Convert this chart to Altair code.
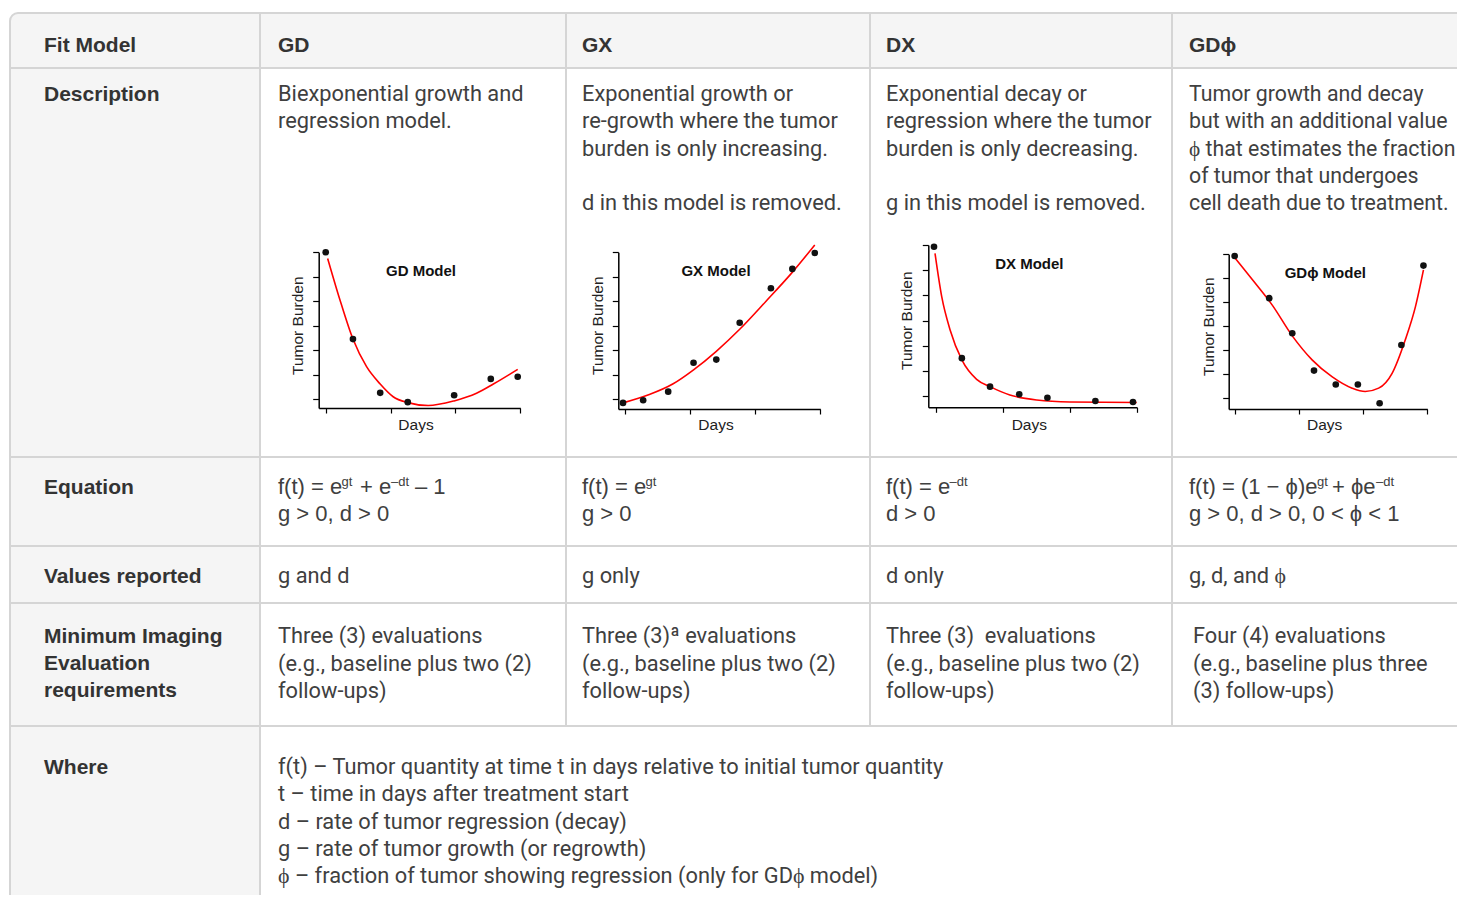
import altair as alt
import pandas as pd

OFF = 8            # page margin
W, H = 1449, 887   # chart size (page minus margins)

# ---------------- table text ----------------
header_labels = ["Fit Model", "GD", "GX", "DX", "GDϕ"]
row_labels = [["Description"], ["Equation"], ["Values reported"],
              ["Minimum Imaging", "Evaluation", "requirements"], ["Where"]]
desc_text = [
    ["Biexponential growth and", "regression model."],
    ["Exponential growth or", "re-growth where the tumor", "burden is only increasing.", "",
     "d in this model is removed."],
    ["Exponential decay or", "regression where the tumor", "burden is only decreasing.", "",
     "g in this model is removed."],
    ["Tumor growth and decay", "but with an additional value", "ϕ that estimates the fraction",
     "of tumor that undergoes", "cell death due to treatment."],
]
eq_main = [["f(t) = e", "+ e", "– 1"], ["f(t) = e"], ["f(t) = e"], ["f(t) = (1 − ϕ)e", "+ ϕe"]]
eq_sup = [["gt", "–dt"], ["gt"], ["–dt"], ["gt", "–dt"]]
eq_cond = ["g > 0, d > 0", "g > 0", "d > 0", "g > 0, d > 0, 0 < ϕ < 1"]
values_reported = ["g and d", "g only", "d only", "g, d, and ϕ"]
min_imaging = [
    ["Three (3) evaluations", "(e.g., baseline plus two (2)", "follow-ups)"],
    ["Three (3)ª evaluations", "(e.g., baseline plus two (2)", "follow-ups)"],
    ["Three (3)\u00a0 evaluations", "(e.g., baseline plus two (2)", "follow-ups)"],
    ["Four (4) evaluations", "(e.g., baseline plus three", "(3) follow-ups)"],
]
where_lines = [
    "f(t) – Tumor quantity at time t in days relative to initial tumor quantity",
    "t – time in days after treatment start",
    "d – rate of tumor regression (decay)",
    "g – rate of tumor growth (or regrowth)",
    "ϕ – fraction of tumor showing regression (only for GDϕ model)",
]
plot_titles = ["GD Model", "GX Model", "DX Model", "GDϕ Model"]

# ---------------- mini plot data (days, tumor burden units) ----------------
gd_pt_day = [0, 8.4, 16.8, 25.3, 39.6, 50.9, 59.2]
gd_pt_val = [6.0, 2.45, 0.25, -0.13, 0.15, 0.82, 0.91]
gd_fit_day = [0.6, 4.4, 8.4, 12.6, 16.8, 20.8, 25.3, 31.6, 39.6, 46.5, 51.7, 59.2]
gd_fit_val = [5.75, 4.05, 2.45, 1.32, 0.61, 0.09, -0.15, -0.27, -0.08, 0.23, 0.61, 1.21]

gx_pt_day = [-0.7, 5.5, 13.2, 21.0, 28.0, 35.2, 44.8, 51.4, 58.3]
gx_pt_val = [-0.16, -0.05, 0.30, 1.48, 1.61, 3.12, 4.53, 5.32, 5.97]
gx_fit_day = [-0.7, 7.4, 14.6, 21.0, 28.0, 35.2, 43.3, 51.5, 58.3]
gx_fit_val = [-0.16, 0.18, 0.61, 1.19, 1.95, 2.85, 4.0, 5.2, 6.3]

dx_pt_day = [-0.5, 7.8, 16.2, 24.9, 33.3, 47.6, 58.8]
dx_pt_val = [5.93, 1.51, 0.38, 0.08, -0.06, -0.19, -0.23]
dx_fit_day = [-0.2, 1.8, 4.3, 7.8, 12.2, 16.2, 22.1, 30.1, 40.0, 59.9]
dx_fit_val = [5.67, 3.95, 2.63, 1.44, 0.67, 0.38, 0.05, -0.15, -0.23, -0.25]

gp_pt_day = [-0.2, 10.6, 17.8, 24.6, 31.4, 38.3, 45.1, 51.9, 58.8]
gp_pt_val = [5.93, 4.17, 2.71, 1.15, 0.57, 0.57, -0.21, 2.22, 5.53]
gp_fit_day = [0, 6.25, 11.5, 17.8, 24.0, 30.2, 36.5, 40.6, 44.8, 49.0, 53.1, 56.3, 58.8]
gp_fit_val = [5.83, 4.79, 3.89, 2.6, 1.6, 0.9, 0.42, 0.28, 0.42, 1.04, 2.43, 3.82, 5.35]

x_ticks = [0, 20, 40, 60]
y_ticks = [0, 1, 2, 3, 4, 5, 6]

# ---------------- layout (page pixels) ----------------
COL_X = [10, 260, 566, 870, 1172, 1480]
ROW_Y = [13, 68, 457, 546, 603, 726, 920]
TEXT_X = [44, 278, 582, 886, 1189]
LH = 27.2
BASE = {"head": 52, "desc": 101.2, "eq": 493.5, "val": 583, "min": 643, "where": 774}
EQ_MAIN_DX = [[0, 82, 137], [0], [0], [0, 143]]
EQ_SUP_DX = [[63.5, 113], [63.5], [63.5], [128, 187]]
SUP_RAISE = 8

# plot frames: x-range, y-range (page px), domains
frames = [
    dict(xr=(318.7, 520.3), yr=(408, 252.3), xd=(-2.16, 60), yd=(-0.37, 6),
         title=(421, 271), ylab=(297.7, 325.7), xlab=(416, 425)),
    dict(xr=(618.3, 820.3), yr=(409, 252.3), xd=(-2.15, 60), yd=(-0.41, 6),
         title=(716, 271), ylab=(597.7, 325.7), xlab=(716, 425)),
    dict(xr=(928.3, 1137), yr=(407.3, 245), xd=(-2.2, 60), yd=(-0.44, 6),
         title=(1029.3, 264.3), ylab=(906.7, 320.7), xlab=(1029.3, 425)),
    dict(xr=(1228.7, 1427.3), yr=(409, 254.3), xd=(-2.06, 60), yd=(-0.45, 6),
         title=(1325.3, 273.3), ylab=(1208.7, 326.7), xlab=(1324.7, 425)),
]

GRID = "#d5d5d5"
SHADE = "#f5f5f5"
TXT = "#404040"
HEAD = "#333333"


def px(v):
    return v - OFF


def rect_layer(rows, **kw):
    return alt.Chart(pd.DataFrame(rows)).mark_rect(**kw).encode(
        x=alt.X("x:Q", scale=None, axis=None), x2="x2:Q",
        y=alt.Y("y:Q", scale=None, axis=None), y2="y2:Q")


# ---- backgrounds and grid ----
table_box = [dict(x=px(COL_X[0]), x2=px(COL_X[-1]), y=px(ROW_Y[0]), y2=px(ROW_Y[-1]))]
base_rect = rect_layer(table_box, fill="white", cornerRadius=8)
head_rect = rect_layer([dict(x=px(COL_X[0]), x2=px(COL_X[-1]), y=px(ROW_Y[0]), y2=px(ROW_Y[1]))],
                       fill=SHADE, cornerRadiusTopLeft=8)
col_rect = rect_layer([dict(x=px(COL_X[0]), x2=px(COL_X[1]), y=px(ROW_Y[1]), y2=px(ROW_Y[-1]))],
                      fill=SHADE)

vlines = [dict(x=px(COL_X[1]), y=px(ROW_Y[0]), y2=px(ROW_Y[-1]))]
for cx in COL_X[2:5]:
    vlines.append(dict(x=px(cx), y=px(ROW_Y[0]), y2=px(ROW_Y[5])))
v_rules = alt.Chart(pd.DataFrame(vlines)).mark_rule(color=GRID, strokeWidth=2).encode(
    x=alt.X("x:Q", scale=None, axis=None),
    y=alt.Y("y:Q", scale=None, axis=None), y2="y2:Q")

hlines = [dict(y=px(ry), x=px(COL_X[0]), x2=px(COL_X[-1])) for ry in ROW_Y[1:6]]
h_rules = alt.Chart(pd.DataFrame(hlines)).mark_rule(color=GRID, strokeWidth=2).encode(
    y=alt.Y("y:Q", scale=None, axis=None),
    x=alt.X("x:Q", scale=None, axis=None), x2="x2:Q")

border = rect_layer(table_box, fill="white", fillOpacity=0, stroke=GRID, strokeWidth=2, cornerRadius=8)

# ---- text rows ----
bold_rows, body_rows, narrow_rows, eq_rows, sup_rows = [], [], [], [], []
for i, h in enumerate(header_labels):
    bold_rows.append(dict(x=px(TEXT_X[i]), y=px(BASE["head"]), t=h))
label_bases = [BASE["desc"], BASE["eq"], BASE["val"], BASE["min"], BASE["where"]]
for lines, b in zip(row_labels, label_bases):
    for j, ln in enumerate(lines):
        bold_rows.append(dict(x=px(TEXT_X[0]), y=px(b + j * LH), t=ln))
for c in range(4):
    target = narrow_rows if c == 3 else body_rows
    for j, ln in enumerate(desc_text[c]):
        if ln:
            target.append(dict(x=px(TEXT_X[c + 1]), y=px(BASE["desc"] + j * LH), t=ln))
    for seg, dx in zip(eq_main[c], EQ_MAIN_DX[c]):
        eq_rows.append(dict(x=px(TEXT_X[c + 1] + dx), y=px(BASE["eq"]), t=seg))
    for seg, dx in zip(eq_sup[c], EQ_SUP_DX[c]):
        sup_rows.append(dict(x=px(TEXT_X[c + 1] + dx), y=px(BASE["eq"] - SUP_RAISE), t=seg))
    eq_rows.append(dict(x=px(TEXT_X[c + 1]), y=px(BASE["eq"] + LH), t=eq_cond[c]))
    body_rows.append(dict(x=px(TEXT_X[c + 1]), y=px(BASE["val"]), t=values_reported[c]))
    mx = TEXT_X[c + 1] + (4 if c == 3 else 0)
    for j, ln in enumerate(min_imaging[c]):
        body_rows.append(dict(x=px(mx), y=px(BASE["min"] + j * 27.5), t=ln))
for j, ln in enumerate(where_lines):
    body_rows.append(dict(x=px(TEXT_X[1]), y=px(BASE["where"] + j * 27.25), t=ln))


def text_layer(rows, **kw):
    return alt.Chart(pd.DataFrame(rows)).mark_text(align="left", baseline="alphabetic", **kw).encode(
        x=alt.X("x:Q", scale=None, axis=None), y=alt.Y("y:Q", scale=None, axis=None), text="t:N")


t_bold = text_layer(bold_rows, font="Liberation Sans", fontSize=21, fontWeight="bold", color=HEAD)
t_body = text_layer(body_rows, font="Roboto", fontSize=21.8, color=TXT)
t_narrow = text_layer(narrow_rows, font="Roboto", fontSize=21.3, color=TXT)
t_eq = text_layer(eq_rows, font="Liberation Sans", fontSize=22, color=TXT)
t_sup = text_layer(sup_rows, font="Liberation Sans", fontSize=13, color=TXT)

# ---- mini plot labels ----
title_rows = [dict(x=px(f["title"][0]), y=px(f["title"][1]), t=plot_titles[i]) for i, f in enumerate(frames)]
ylab_rows = [dict(x=px(f["ylab"][0]), y=px(f["ylab"][1]), t="Tumor Burden") for f in frames]
xlab_rows = [dict(x=px(f["xlab"][0]), y=px(f["xlab"][1]), t="Days") for f in frames]


def mid_text(rows, **kw):
    return alt.Chart(pd.DataFrame(rows)).mark_text(align="center", baseline="middle", **kw).encode(
        x=alt.X("x:Q", scale=None, axis=None), y=alt.Y("y:Q", scale=None, axis=None), text="t:N")


t_titles = mid_text(title_rows, font="Liberation Sans", fontSize=15, fontWeight="bold", color="#111")
t_ylab = mid_text(ylab_rows, font="Liberation Sans", fontSize=15.5, angle=270, color="#222")
t_xlab = mid_text(xlab_rows, font="Liberation Sans", fontSize=15.5, color="#222")

# ---- mini plots (each with its own scales) ----
series = [
    (gd_pt_day, gd_pt_val, gd_fit_day, gd_fit_val),
    (gx_pt_day, gx_pt_val, gx_fit_day, gx_fit_val),
    (dx_pt_day, dx_pt_val, dx_fit_day, dx_fit_val),
    (gp_pt_day, gp_pt_val, gp_fit_day, gp_fit_val),
]
plot_layers = []
for f, (pd_, pv, fd, fv) in zip(frames, series):
    xs = alt.Scale(domain=list(f["xd"]), range=[px(f["xr"][0]), px(f["xr"][1])], nice=False, zero=False)
    ys = alt.Scale(domain=list(f["yd"]), range=[px(f["yr"][0]), px(f["yr"][1])], nice=False, zero=False)
    xax = alt.Axis(orient="bottom", offset=px(f["yr"][0]) - H, values=x_ticks, labels=False, title=None,
                   grid=False, tickSize=5, domainColor="#000", tickColor="#000", domainWidth=1.5,
                   tickWidth=1.2, zindex=2)
    yax = alt.Axis(orient="left", offset=-px(f["xr"][0]), values=y_ticks, labels=False, title=None,
                   grid=False, tickSize=6, domainColor="#000", tickColor="#000", domainWidth=1.5,
                   tickWidth=1.2, zindex=2)
    fit = alt.Chart(pd.DataFrame({"day": fd, "burden": fv})).mark_line(
        color="#ff0000", strokeWidth=1.6, interpolate="monotone").encode(
        x=alt.X("day:Q", scale=xs, axis=xax), y=alt.Y("burden:Q", scale=ys, axis=yax))
    pts = alt.Chart(pd.DataFrame({"day": pd_, "burden": pv})).mark_circle(
        size=44, color="#111", opacity=1).encode(
        x=alt.X("day:Q", scale=xs, axis=None), y=alt.Y("burden:Q", scale=ys, axis=None))
    plot_layers += [fit, pts]

chart = alt.layer(
    base_rect, head_rect, col_rect, v_rules, h_rules, border,
    t_bold, t_body, t_narrow, t_eq, t_sup, t_titles, t_ylab, t_xlab,
    *plot_layers
).resolve_scale(x="independent", y="independent").resolve_axis(
    x="independent", y="independent"
).properties(
    width=W, height=H, padding=0, autosize=alt.AutoSizeParams(type="none"),
    background="white"
).configure_view(stroke=None)

chart.save("out.html", embed_options={"renderer": "svg", "actions": False})
